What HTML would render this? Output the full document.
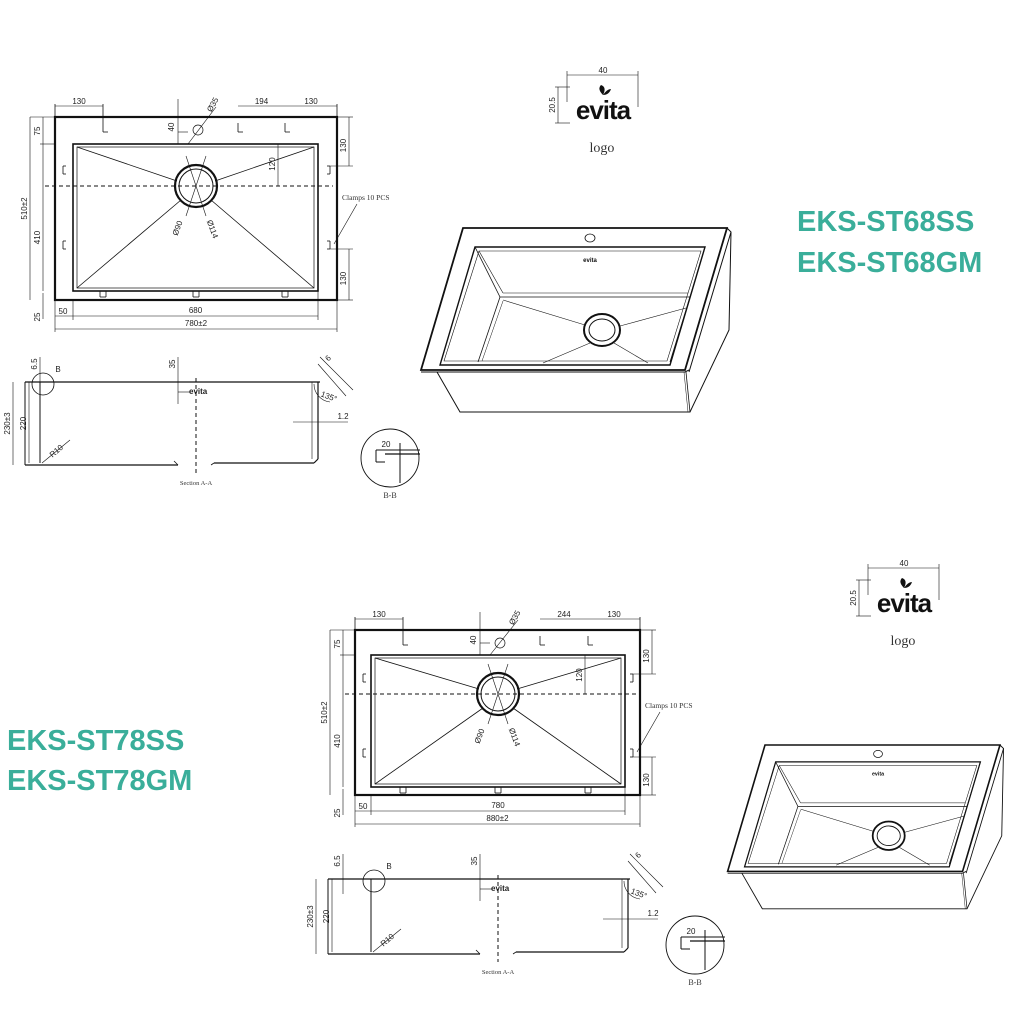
<!DOCTYPE html>
<html><head><meta charset="utf-8"><style>
html,body{margin:0;padding:0;background:#fff;}
svg{display:block;}
.t{font-family:"Liberation Sans",sans-serif;font-size:8px;fill:#222;}
.s{font-family:"Liberation Serif",serif;font-size:8px;fill:#333;}
.title{font-family:"Liberation Sans",sans-serif;font-weight:bold;font-size:29px;fill:#3aae9a;}
</style></head><body>
<svg id="svg" width="1024" height="1024" viewBox="0 0 1024 1024" xmlns="http://www.w3.org/2000/svg">
<text class="title" x="797" y="231">EKS-ST68SS</text>
<text class="title" x="797" y="272">EKS-ST68GM</text>
<text class="title" x="7" y="750">EKS-ST78SS</text>
<text class="title" x="7" y="790">EKS-ST78GM</text>
<g id="g"></g>
</svg>
<script>
var g=document.getElementById('g'),out='';
function L(a,b,c,d,w,dash){out+='<line x1="'+a+'" y1="'+b+'" x2="'+c+'" y2="'+d+'" stroke="#111" stroke-width="'+(w||0.8)+'"'+(dash?' stroke-dasharray="4,3"':'')+'/>';}
function R(x,y,w,h,sw){out+='<rect x="'+x+'" y="'+y+'" width="'+w+'" height="'+h+'" fill="none" stroke="#111" stroke-width="'+(sw||1)+'"/>';}
function C(x,y,r,sw){out+='<circle cx="'+x+'" cy="'+y+'" r="'+r+'" fill="none" stroke="#111" stroke-width="'+(sw||1)+'"/>';}
function T(x,y,s,rot,cls){out+='<text class="'+(cls||'t')+'" x="'+x+'" y="'+y+'"'+(rot?' transform="rotate('+rot+' '+x+' '+y+')"':'')+' text-anchor="middle">'+s+'</text>';}
function P(pts,sw,closed){out+='<'+(closed===false?'polyline':'polygon')+' points="'+pts+'" fill="none" stroke="#111" stroke-width="'+(sw||1)+'"/>';}
function plan(o){
 var x1=o.x1,x2=o.x2,y1=o.y1,y2=o.y2,a=o.a,b=o.b,c=o.c,d=o.d,cx=o.cx,cy=o.cy;
 R(x1,y1,x2-x1,y2-y1,2.2);
 R(a,b,c-a,d-b,1.6);R(a+4,b+3,c-a-8,d-b-6,0.7);
 C(cx,cy,21,2.2);C(cx,cy,17,1);
 L(x1-10,cy,x2-4,cy,1,true);
 L(a+4,b+3,cx-19,cy-5);L(c-4,b+3,cx+19,cy-5);L(a+4,d-3,cx-15,cy+14);L(c-4,d-3,cx+15,cy+14);
 L(cx-10,cy-30,cx+10,cy+30,0.6);L(cx+10,cy-30,cx-10,cy+30,0.6);
 [[x1+48,y1+6],[cx+42,y1+6],[x2-52,y1+6]].forEach(function(p){L(p[0],p[1],p[0],p[1]+9);L(p[0],p[1]+9,p[0]+5,p[1]+9);});
 [[x1+8,cy-20],[x1+8,cy+55]].forEach(function(p){L(p[0],p[1],p[0],p[1]+8);L(p[0],p[1],p[0]+3,p[1]);L(p[0],p[1]+8,p[0]+3,p[1]+8);});
 [[x2-10,cy-20],[x2-10,cy+55]].forEach(function(p){L(p[0]+3,p[1],p[0]+3,p[1]+8);L(p[0],p[1],p[0]+3,p[1]);L(p[0],p[1]+8,p[0]+3,p[1]+8);});
 [x1+48,cx,x2-52].forEach(function(x){L(x-3,d,x-3,d+6);L(x+3,d,x+3,d+6);L(x-3,d+6,x+3,d+6);});
 var ty=y1-11;
 L(x1,ty-2,x1,y1);L(x1,ty,x1+48,ty,0.6);L(x1+48,ty-2,x1+48,y1+6);T(x1+24,ty-2,'130');
 L(cx+42,ty,x2-52,ty,0.6);T((cx+42+x2-52)/2,ty-2,o.mid);
 L(x2-52,ty,x2,ty,0.6);L(x2,ty-2,x2,y1);T(x2-26,ty-2,'130');
 L(cx-18,y1-18,cx-18,b,0.6);T(cx-22,y1+10,'40',-90);L(cx-18,b-12,cx-8,b-12,0.6);
 C(cx+2,y1+13,5,0.7);L(cx-8,b,cx+20,y1-10,0.6);T(cx+19,y1-11,'Ø35',-60);
 L(x1-25,y1,x1,y1,0.6);L(x1-25,y1,x1-25,y2,0.6);T(x1-28,(y1+y2)/2,'510±2',-90);
 L(x1-12,b,x1-12,d,0.6);L(x1-15,b,x1,b,0.6);T(x1-15,(b+d)/2+20,'410',-90);
 T(x1-15,y1+14,'75',-90);L(x1-12,y1,x1-12,b,0.6);
 L(x1-12,d+2,x1-12,d+28,0.6);T(x1-15,d+26,'25',-90);
 L(x2,y1,x2+16,y1,0.6);L(x2+12,y1,x2+12,cy-20,0.6);L(x2-7,cy-20,x2+16,cy-20,0.6);T(x2+9,(y1+cy-20)/2+4,'130',-90);
 L(x2-7,cy+63,x2+16,cy+63,0.6);L(x2+12,cy+63,x2+12,y2,0.6);L(x2,y2,x2+16,y2,0.6);T(x2+9,(cy+63+y2)/2+4,'130',-90);
 L(c-40,b,c-40,cy,0.6);T(c-43,b+20,'120',-90);
 out+='<text class="s" x="'+(x2+5)+'" y="'+(cy+14)+'" style="font-size:7.5px">Clamps 10 PCS</text>';
 L(x2+20,cy+18,x2-3,cy+58,0.6);
 T(cx-16,cy+43,'Ø90',-70);T(cx+14,cy+44,'Ø114',70);
 L(x1,y2+16,c,y2+16,0.6);L(a,y2,a,y2+20,0.6);L(c,d,c,y2+20,0.6);T(x1+8,y2+14,'50');T((a+c)/2,y2+13,o.w1);
 L(x1,y2+29,x2,y2+29,0.6);L(x1,y2,x1,y2+32,0.6);L(x2,y2,x2,y2+32,0.6);T((x1+x2)/2,y2+26,o.w2);
}
function section(o){
 var x1=o.x1,x2=o.x2,y=o.y,yb=o.yb,a=o.a,cx=o.cx;
 L(x1,y,x2+2,y,1.2);L(x1,y,x1,yb,1);L(x1,yb,cx-18,yb,1.2);L(cx-18,yb,cx-22,yb-4,0.8);
 L(a,y,a,yb-2,1);L(cx+18,yb-2,x2-4,yb-2,1.2);L(cx+18,yb-2,cx+15,yb,0.8);L(x2,y,x2,yb-6,1.2);L(x2,yb-6,x2-4,yb-2,1.2);
 L(x2-6,y,x2-6,yb-6,0.6);
 L(cx,y-4,cx,yb+8,1,true);
 C(a+3,y+2,11,0.8);T(a+18,y-10,'B');
 L(x1+15,y-25,x1+15,y+15,0.6);T(x1+12,y-18,'6.5',-90);
 L(x1-12,y,x1-12,yb,0.6);T(x1-15,(y+yb)/2,'230±3',-90);
 L(x1+4,y,x1+4,yb-2,0.6);T(x1+1,(y+yb)/2,'220',-90);
 L(cx-18,y-25,cx-18,y+22,0.6);L(cx-18,y+10,cx-5,y+10,0.6);T(cx-21,y-18,'35',-90);
 out+='<text class="t" x="'+(cx-7)+'" y="'+(y+12)+'" style="font-size:8px;font-weight:bold">evita</text>';
 L(a+2,yb-2,a+30,yb-25,0.6);T(a+18,yb-12,'R10',-40);
 L(x2+2,y-25,x2+35,y+8,0.6);L(x2,y-18,x2+28,y+14,0.6);T(x2+12,y-22,'6',-45);
 out+='<path d="M'+(x2-4)+' '+(y+2)+' A18 18 0 0 0 '+(x2+12)+' '+(y+20)+'" fill="none" stroke="#111" stroke-width="0.6"/>';T(x2+10,y+17,'135°',20);
 L(x2-25,y+40,x2+30,y+40,0.6);T(x2+25,y+37,'1.2');
 out+='<text class="s" x="'+cx+'" y="'+(yb+20)+'" text-anchor="middle" style="font-size:6.5px">Section A-A</text>';
 var bx=o.bx,by=o.by;C(bx,by,29,0.9);
 L(bx-14,by-8,bx+30,by-8,1);L(bx-14,by-8,bx-14,by+4,1);L(bx-14,by+4,bx-5,by+4,1);L(bx-5,by-4,bx+30,by-4,1.2);
 L(bx+10,by-15,bx+10,by+25,1);T(bx-4,by-11,'20');T(bx,by+40,'B-B','', 's');
}
function logo(x,y){
 out+='<text x="'+(x+38)+'" y="'+(y+42)+'" text-anchor="middle" style="font-family:Liberation Sans,sans-serif;font-size:26px;font-weight:bold;letter-spacing:-1px" fill="#111">evita</text>';
 out+='<path d="M'+(x+38)+' '+(y+18)+' q-6 -6 -2 -10 q6 2 2 10 z M'+(x+38)+' '+(y+18)+' q4 -6 8 -6 q-2 6 -8 6z" fill="#111"/>';
 L(x+2,y-2,x+73,y-2,0.6);L(x+2,y-6,x+2,y+25,0.6);L(x+73,y-6,x+73,y+30,0.6);T(x+38,y-4,'40');
 L(x-10,y+10,x+5,y+10,0.6);L(x-10,y+46,x+5,y+46,0.6);L(x-7,y+10,x-7,y+46,0.6);T(x-10,y+28,'20.5',-90);
 out+='<text class="s" x="'+(x+37)+'" y="'+(y+75)+'" text-anchor="middle" style="font-size:14px">logo</text>';
}
function iso(tr){
 out+='<g transform="'+tr+'">';
 P('463,228 727,228 685,370 421,370',1.8);
 P('421,372 685,372 689,370',1,false);
 P('727,228 731,232 689,372',1,false);
 P('475,247 705,247 670,365 440,365',1.4);
 P('479,251 701,251 667,361 444,361',0.6);
 L(475,247,500,297,0.8);L(500,297,690,297,0.8);L(705,247,690,297,0.8);
 L(479,251,503,293,0.6);L(503,293,688,293,0.6);
 L(500,297,478,362,0.8);L(503,301,482,361,0.5);
 L(690,297,670,362,0.8);
 out+='<ellipse cx="602" cy="330" rx="18" ry="16" fill="none" stroke="#111" stroke-width="2"/><ellipse cx="602" cy="330" rx="13" ry="11" fill="none" stroke="#111" stroke-width="1"/>';
 L(503,300,585,325,0.6);L(686,308,620,326,0.6);L(543,363,590,343,0.6);L(648,363,614,343,0.6);
 out+='<ellipse cx="590" cy="238" rx="5" ry="4" fill="none" stroke="#111" stroke-width="0.8"/>';
 out+='<text x="590" y="262" text-anchor="middle" style="font-family:Liberation Sans;font-size:6px;font-weight:bold" fill="#111">evita</text>';
 P('437,372 460,412 690,412 729,330 731,232',1,false);
 L(686,372,690,412,0.8);L(684,372,688,412,0.5);
 out+='</g>';
}
plan({x1:55,x2:337,y1:117,y2:300,a:73,b:144,c:318,d:291,cx:196,cy:186,mid:'194',w1:'680',w2:'780±2'});
section({x1:25,x2:318,y:382,yb:465,a:40,cx:196,bx:390,by:458});
logo(565,77);
iso('');
plan({x1:355,x2:640,y1:630,y2:795,a:371,b:655,c:625,d:787,cx:498,cy:694,mid:'244',w1:'780',w2:'880±2'});
section({x1:328,x2:628,y:879,yb:954,a:371,cx:498,bx:695,by:945});
logo(866,570);
iso('translate(765 745) scale(0.89) translate(-463 -228)');
g.innerHTML=out;
</script>
</body></html>
